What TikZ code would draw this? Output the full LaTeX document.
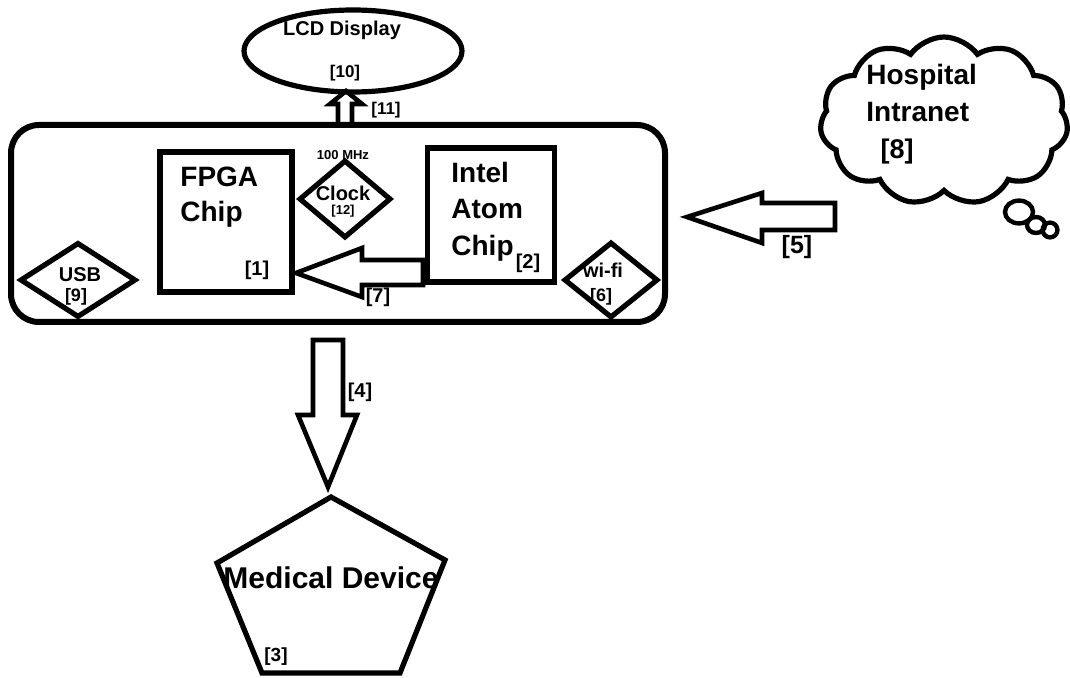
\documentclass[tikz,border=0pt]{standalone}
\usepackage{fontspec}
\setmainfont{Liberation Sans}
\usetikzlibrary{shapes.geometric, shapes.symbols}

\begin{document}
\begin{tikzpicture}[x=0.5pt, y=-0.5pt,
  outline/.style={line width=2.6pt, line join=miter},
  bigtxt/.style={font=\bfseries\fontsize{14}{16}\selectfont, inner sep=0pt},
  midtxt/.style={font=\bfseries\fontsize{10}{12}\selectfont, inner sep=0pt},
  smalltxt/.style={font=\bfseries\fontsize{6.5}{8}\selectfont, inner sep=0pt}]
\useasboundingbox (0,0) rectangle (1070,678);
% board
\draw[line width=3pt, rounded corners=14pt] (11,125) rectangle (665,322);
% LCD display
\node[draw, ellipse, outline, minimum width=109pt, minimum height=41pt] (lcd) at (353,51) {};
\node[midtxt] (lcdtxt) at (342,30) {LCD Display};
\node[midtxt, font=\bfseries\fontsize{8.5}{10}\selectfont] (lcdnum) at (345,73) {[10]};
\draw[outline, line width=2.3pt] (338,125) -- (338,104) -- (330,104) -- (346,91) -- (362,104) -- (352,104) -- (352,125);
\node[midtxt, font=\bfseries\fontsize{8.5}{10}\selectfont] (n11) at (386,110) {[11]};
% chips
\node[draw, outline, minimum width=66pt, minimum height=70pt] (fpga) at (226,222) {};
\node[bigtxt, anchor=west] (fpga1) at (180,177) {FPGA};
\node[bigtxt, anchor=west] (fpga2) at (180,214) {Chip};
\node[midtxt] (n1) at (257,270) {[1]};
\node[draw, outline, minimum width=63.5pt, minimum height=67pt] (atom) at (491,215) {};
\node[bigtxt, anchor=west] (atom1) at (451,172) {Intel};
\node[bigtxt, anchor=west] (atom2) at (451,209) {Atom};
\node[bigtxt, anchor=west] (atom3) at (451,248) {Chip};
\node[midtxt] (n2) at (528,263) {[2]};
% clock
\node[draw, diamond, outline, minimum width=46pt, minimum height=39pt] (clock) at (345,199) {};
\node[smalltxt] (mhz) at (343,155) {100 MHz};
\node[midtxt] (clocktxt) at (343,193) {Clock};
\node[smalltxt] (n12) at (343,211) {[12]};
% usb and wi-fi
\node[draw, diamond, outline, minimum width=58pt, minimum height=37.5pt] (usb) at (78,280) {};
\node[midtxt] (usbtxt) at (80,275) {USB};
\node[midtxt, font=\bfseries\fontsize{9}{11}\selectfont] (n9) at (76,297) {[9]};
\node[draw, diamond, outline, minimum width=47pt, minimum height=38pt] (wifi) at (611,280) {};
\node[midtxt] (wifitxt) at (603,270) {wi-fi};
\node[midtxt, font=\bfseries\fontsize{9}{11}\selectfont] (n6) at (601,297) {[6]};
% arrow atom -> fpga
\draw[outline, line width=2.3pt] (296,273) -- (362,248) -- (362,260) -- (423,260) -- (423,285) -- (362,285) -- (362,297) -- cycle;
\node[midtxt] (n7) at (378,297) {[7]};
% hospital intranet
\node[draw, cloud, cloud puffs=11, cloud puff arc=110, aspect=1.5, outline, minimum width=124pt, minimum height=84pt] (intranet) at (944,121) {};
\draw[outline, line width=2.2pt] (1019,212) ellipse [x radius=7pt, y radius=5.7pt];
\draw[outline, line width=2.2pt] (1036,225) ellipse [x radius=4.5pt, y radius=4pt];
\draw[outline, line width=2.2pt] (1050,230) ellipse [x radius=3.7pt, y radius=3.7pt];
\node[bigtxt, anchor=west] (host1) at (866,77) {Hospital};
\node[bigtxt, anchor=west] (host2) at (866,112) {Intranet};
\node[bigtxt, font=\bfseries\fontsize{13.5}{16}\selectfont] (n8) at (897,152) {[8]};
\draw[outline, line width=2.3pt] (687,217) -- (762,193) -- (762,203) -- (835,203) -- (835,230) -- (762,230) -- (762,243) -- cycle;
\node[midtxt, font=\bfseries\fontsize{12.5}{14}\selectfont] (n5) at (797,247) {[5]};
% medical device
\draw[outline, line width=2.3pt] (313,340) -- (343,340) -- (343,415) -- (357,415) -- (328,487) -- (298,415) -- (313,415) -- cycle;
\node[midtxt] (n4) at (360,392) {[4]};
\draw[outline] (331,497) -- (445,560) -- (400,673) -- (262,673) -- (217,563) -- cycle;
\node[bigtxt, font=\bfseries\fontsize{15}{17}\selectfont] (medtxt) at (331,578) {Medical Device};
\node[midtxt, font=\bfseries\fontsize{9.5}{11}\selectfont] (n3) at (276,657) {[3]};
\end{tikzpicture}
\end{document}
